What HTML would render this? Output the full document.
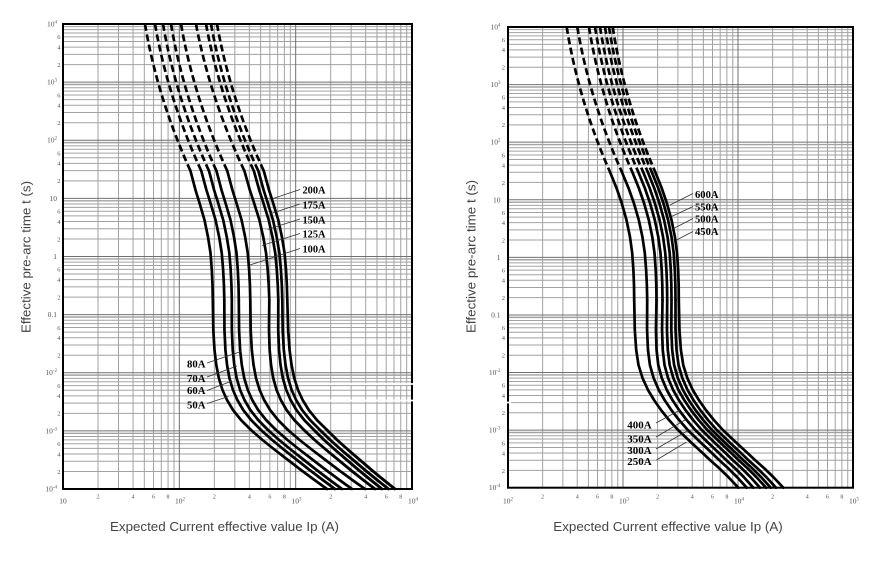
<!DOCTYPE html>
<html><head><meta charset="utf-8">
<style>html,body{margin:0;padding:0;background:#fff;}svg{display:block}</style>
</head><body>
<svg xmlns="http://www.w3.org/2000/svg" width="890" height="573" viewBox="0 0 890 573">
<rect width="890" height="573" fill="#fff"/>
<defs>
<path id="lvx" d="M35.02 24V489M55.5 24V489M70.04 24V489M81.31 24V489M90.52 24V489M98.31 24V489M105.06 24V489M111.01 24V489"/>
<path id="lhy" d="M63 -17.5H412M63 -27.73H412M63 -35H412M63 -40.63H412M63 -45.23H412M63 -49.12H412M63 -52.49H412M63 -55.47H412"/>
<path id="rvx" d="M34.62 27V487.7M54.87 27V487.7M69.24 27V487.7M80.38 27V487.7M89.49 27V487.7M97.19 27V487.7M103.86 27V487.7M109.74 27V487.7"/>
<path id="rhy" d="M508 -17.34H853M508 -27.48H853M508 -34.67H853M508 -40.25H853M508 -44.81H853M508 -48.66H853M508 -52.01H853M508 -54.96H853"/>
<g id="LA">
<path d="M145,24 Q157.3,97.5 190.5,171" stroke-dasharray="7 3.5" stroke-linecap="butt"/>
<path d="M190.5,171 L195.5,190 L199.5,203 L204.5,220 L208,237 L210.5,253 L211.8,270 L212.5,285 L212.8,300"/>
</g>
<path id="LB" d="M212.8,300 L213.3,330 L214.5,350 L216.3,365 L218.8,378 L222.5,390 L227,400 L233,410 L241,420 L251,430"/>
<path id="LC" d="M251,430 L262.5,440 L275,450 L288,460 L301,470 L314.5,480 L327,489"/>
<g id="RA">
<path d="M566.7,27 Q578.4,100.2 610,172" stroke-dasharray="7 3.5" stroke-linecap="butt"/>
<path d="M610,172 L616.5,188 L621.7,203 L626.5,220 L630,237 L632.2,253 L633.4,270 L634,285 L634.2,300"/>
</g>
<path id="RB" d="M634.2,300 L634.8,330 L636.2,350 L638.5,365 L642.5,378 L648,390 L654,400 L661,410 L669,420 L678,430 L691.7,443 L701.5,452 L710,460 L719,468 L728.3,477 L738.3,487.7"/>
</defs>

<!-- grids -->
<g fill="none" stroke="#a2a2a2" stroke-width="1">
<use href="#lvx" transform="translate(63,0)"/>
<use href="#lvx" transform="translate(179.33,0)"/>
<use href="#lvx" transform="translate(295.67,0)"/>
<use href="#lhy" transform="translate(0,82.125)"/>
<use href="#lhy" transform="translate(0,140.25)"/>
<use href="#lhy" transform="translate(0,198.375)"/>
<use href="#lhy" transform="translate(0,256.5)"/>
<use href="#lhy" transform="translate(0,314.625)"/>
<use href="#lhy" transform="translate(0,372.75)"/>
<use href="#lhy" transform="translate(0,430.875)"/>
<use href="#lhy" transform="translate(0,489)"/>
<use href="#rvx" transform="translate(508,0)"/>
<use href="#rvx" transform="translate(623,0)"/>
<use href="#rvx" transform="translate(738,0)"/>
<use href="#rhy" transform="translate(0,84.59)"/>
<use href="#rhy" transform="translate(0,142.18)"/>
<use href="#rhy" transform="translate(0,199.76)"/>
<use href="#rhy" transform="translate(0,257.35)"/>
<use href="#rhy" transform="translate(0,314.94)"/>
<use href="#rhy" transform="translate(0,372.53)"/>
<use href="#rhy" transform="translate(0,430.11)"/>
<use href="#rhy" transform="translate(0,487.7)"/>
<path d="M63 84.3H412M63 142.4H412M63 200.6H412M63 258.7H412M63 316.8H412M63 374.9H412M63 433.1H412M508 86.8H853M508 144.4H853M508 202H853M508 259.5H853M508 317.1H853M508 374.7H853M508 432.3H853"/>
</g>
<g fill="none" stroke="#707070" stroke-width="1">
<path d="M179.33 24V489M295.67 24V489M63 82.125H412M63 140.25H412M63 198.375H412M63 256.5H412M63 314.625H412M63 372.75H412M63 430.875H412"/>
<path d="M623 27V487.7M738 27V487.7M508 84.59H853M508 142.18H853M508 199.76H853M508 257.35H853M508 314.94H853M508 372.53H853M508 430.11H853"/>
</g>

<!-- curves left -->
<g fill="none" stroke="#000" stroke-width="2.7" stroke-linejoin="round" stroke-linecap="round">
<use href="#LA"/>
<use href="#LA" transform="matrix(1,0,0.005435,1,9.870,0)"/>
<use href="#LA" transform="matrix(1,0,0.003623,1,17.913,0)"/>
<use href="#LA" transform="matrix(1,0,0,1,26,0)"/>
<use href="#LA" transform="matrix(1,0,0.005435,1,35.870,0)"/>
<use href="#LA" transform="matrix(1,0,0.019928,1,50.522,0)"/>
<use href="#LA" transform="matrix(1,0,0.016304,1,60.609,0)"/>
<use href="#LA" transform="matrix(1,0,0.012681,1,65.696,0)"/>
<use href="#LA" transform="matrix(1,0,0.009058,1,71.783,0)"/>

<use href="#LB"/>
<use href="#LB" transform="matrix(1,0,-0.011538,1,14.962,0)"/>
<use href="#LB" transform="matrix(1,0,-0.015385,1,23.615,0)"/>
<use href="#LB" transform="matrix(1,0,-0.007692,1,28.308,0)"/>
<use href="#LB" transform="matrix(1,0,-0.003846,1,38.654,0)"/>
<use href="#LB" transform="matrix(1,0,-0.026923,1,64.577,0)"/>
<use href="#LB" transform="matrix(1,0,-0.019231,1,71.269,0)"/>
<use href="#LB" transform="matrix(1,0,-0.003846,1,70.654,0)"/>
<use href="#LB" transform="matrix(1,0,0.011538,1,71.038,0)"/>

<use href="#LC"/>
<use href="#LC" transform="matrix(1,0,-0.033898,1,24.576,0)"/>
<use href="#LC" transform="matrix(1,0,-0.033898,1,31.576,0)"/>
<use href="#LC" transform="matrix(1,0,0,1,25,0)"/>
<use href="#LC" transform="matrix(1,0,0.016949,1,29.712,0)"/>
<use href="#LC" transform="matrix(1,0,-0.084746,1,89.441,0)"/>
<use href="#LC" transform="matrix(1,0,-0.135593,1,121.305,0)"/>
<use href="#LC" transform="matrix(1,0,-0.127119,1,123.661,0)"/>
<use href="#LC" transform="matrix(1,0,-0.135593,1,134.305,0)"/>

<!-- curves right -->
<use href="#RA"/>
<use href="#RA" transform="matrix(1,0,0.008791,1,10.363,0)"/>
<use href="#RA" transform="matrix(1,0,0,1,22.3,0)"/>
<use href="#RA" transform="matrix(1,0,0,1,28.3,0)"/>
<use href="#RA" transform="matrix(1,0,-0.001099,1,33.330,0)"/>
<use href="#RA" transform="matrix(1,0,-0.003663,1,38.399,0)"/>
<use href="#RA" transform="matrix(1,0,-0.003663,1,42.399,0)"/>
<use href="#RA" transform="matrix(1,0,-0.005128,1,46.138,0)"/>

<use href="#RB"/>
<use href="#RB" transform="matrix(1,0,-0.024507,1,20.352,0)"/>
<use href="#RB" transform="matrix(1,0,-0.038892,1,33.968,0)"/>
<use href="#RB" transform="matrix(1,0,-0.035163,1,38.849,0)"/>
<use href="#RB" transform="matrix(1,0,-0.028237,1,41.471,0)"/>
<use href="#RB" transform="matrix(1,0,-0.026105,1,45.132,0)"/>
<use href="#RB" transform="matrix(1,0,-0.019180,1,47.054,0)"/>
<use href="#RB" transform="matrix(1,0,0.002131,1,43.961,0)"/>
</g>

<!-- leaders -->
<g stroke="#333" stroke-width="0.8" fill="none">
<path d="M300,189.5L273,198.5M300,204L271,213.5M300,219L267.5,229.5M300,233.5L262,245.5M300,248.5L250,265"/>
<path d="M207,363L241,351.5M207,377L237,366M207,390.5L232,381M207,403.5L228.5,396.5"/>
<path d="M693,193.5L670,205M693,206.5L671.5,216.5M693,218.5L673.5,228.5M693,231.5L676.5,240"/>
<path d="M656,423L680,410M656,437L685,420M656,449L687,431M656.5,460L686.5,442"/>
</g>

<!-- curve labels -->
<g font-family="Liberation Serif, serif" font-weight="bold" font-size="11" fill="#000">
<text x="302.5" y="193.3" textLength="23" lengthAdjust="spacingAndGlyphs">200A</text>
<text x="302.5" y="208.3" textLength="23" lengthAdjust="spacingAndGlyphs">175A</text>
<text x="302.5" y="223.3" textLength="23" lengthAdjust="spacingAndGlyphs">150A</text>
<text x="302.5" y="237.3" textLength="23" lengthAdjust="spacingAndGlyphs">125A</text>
<text x="302.5" y="252.7" textLength="23" lengthAdjust="spacingAndGlyphs">100A</text>
<text x="187" y="367.3" textLength="18.5" lengthAdjust="spacingAndGlyphs">80A</text>
<text x="187" y="382" textLength="18.5" lengthAdjust="spacingAndGlyphs">70A</text>
<text x="187" y="394" textLength="18.5" lengthAdjust="spacingAndGlyphs">60A</text>
<text x="187" y="408.3" textLength="18.5" lengthAdjust="spacingAndGlyphs">50A</text>
<text x="695" y="198" textLength="23.5" lengthAdjust="spacingAndGlyphs">600A</text>
<text x="695" y="210.7" textLength="23.5" lengthAdjust="spacingAndGlyphs">550A</text>
<text x="695" y="222.7" textLength="23.5" lengthAdjust="spacingAndGlyphs">500A</text>
<text x="695" y="235" textLength="23.5" lengthAdjust="spacingAndGlyphs">450A</text>
<text x="627.3" y="428.3" textLength="24.3" lengthAdjust="spacingAndGlyphs">400A</text>
<text x="627.3" y="442.3" textLength="24.3" lengthAdjust="spacingAndGlyphs">350A</text>
<text x="627.3" y="454" textLength="24.3" lengthAdjust="spacingAndGlyphs">300A</text>
<text x="627.3" y="465" textLength="24.3" lengthAdjust="spacingAndGlyphs">250A</text>
</g>

<!-- artifacts -->
<g stroke="#fff" stroke-width="1.8">
<path d="M298,384H415M305,400.5H415M508,401.8V403.8"/>
</g>

<!-- frames -->
<g fill="none" stroke="#000" stroke-width="2">
<rect x="63" y="24" width="349" height="465"/>
<rect x="508" y="27" width="345" height="460.7"/>
</g>
<g stroke="#fff" stroke-width="1.8">
<path d="M410,384H415M410,400.5H415M505,402.5H511"/>
</g>

<!-- y tick labels left -->
<g font-family="Liberation Serif, serif" font-size="7.5" fill="#555" text-anchor="end">
<text x="57" y="26.5">10<tspan dy="-3" font-size="5">4</tspan></text>
<text x="57" y="84.6">10<tspan dy="-3" font-size="5">3</tspan></text>
<text x="57" y="142.7">10<tspan dy="-3" font-size="5">2</tspan></text>
<text x="57" y="200.9">10</text>
<text x="57" y="259">1</text>
<text x="57" y="317.1">0.1</text>
<text x="57" y="375.2">10<tspan dy="-3" font-size="5">-2</tspan></text>
<text x="57" y="433.4">10<tspan dy="-3" font-size="5">-3</tspan></text>
<text x="57" y="491.5">10<tspan dy="-3" font-size="5">-4</tspan></text>
</g>
<g font-family="Liberation Serif, serif" font-size="6.5" fill="#555" text-anchor="end">
<text x="60.5" y="39.2">6</text><text x="60.5" y="49.4">4</text><text x="60.5" y="66.9">2</text>
<text x="60.5" y="97.3">6</text><text x="60.5" y="107.5">4</text><text x="60.5" y="125">2</text>
<text x="60.5" y="155.4">6</text><text x="60.5" y="165.7">4</text><text x="60.5" y="183.2">2</text>
<text x="60.5" y="213.6">6</text><text x="60.5" y="223.8">4</text><text x="60.5" y="241.3">2</text>
<text x="60.5" y="271.7">6</text><text x="60.5" y="281.9">4</text><text x="60.5" y="299.4">2</text>
<text x="60.5" y="329.8">6</text><text x="60.5" y="340">4</text><text x="60.5" y="357.5">2</text>
<text x="60.5" y="387.9">6</text><text x="60.5" y="398.2">4</text><text x="60.5" y="415.7">2</text>
<text x="60.5" y="446.1">6</text><text x="60.5" y="456.3">4</text><text x="60.5" y="473.8">2</text>
</g>

<!-- y tick labels right -->
<g font-family="Liberation Serif, serif" font-size="7.5" fill="#555" text-anchor="end">
<text x="500.5" y="29.5">10<tspan dy="-3" font-size="5">4</tspan></text>
<text x="500.5" y="87.1">10<tspan dy="-3" font-size="5">3</tspan></text>
<text x="500.5" y="144.7">10<tspan dy="-3" font-size="5">2</tspan></text>
<text x="500.5" y="202.3">10</text>
<text x="500.5" y="259.9">1</text>
<text x="500.5" y="317.4">0.1</text>
<text x="500.5" y="375">10<tspan dy="-3" font-size="5">-2</tspan></text>
<text x="500.5" y="432.6">10<tspan dy="-3" font-size="5">-3</tspan></text>
<text x="500.5" y="490.2">10<tspan dy="-3" font-size="5">-4</tspan></text>
</g>
<g font-family="Liberation Serif, serif" font-size="6.5" fill="#555" text-anchor="end">
<text x="505" y="42.1">6</text><text x="505" y="52.2">4</text><text x="505" y="69.6">2</text>
<text x="505" y="99.7">6</text><text x="505" y="109.8">4</text><text x="505" y="127.2">2</text>
<text x="505" y="157.3">6</text><text x="505" y="167.4">4</text><text x="505" y="184.8">2</text>
<text x="505" y="214.9">6</text><text x="505" y="225">4</text><text x="505" y="242.4">2</text>
<text x="505" y="272.5">6</text><text x="505" y="282.6">4</text><text x="505" y="300">2</text>
<text x="505" y="330.1">6</text><text x="505" y="340.2">4</text><text x="505" y="357.6">2</text>
<text x="505" y="387.7">6</text><text x="505" y="397.8">4</text><text x="505" y="415.2">2</text>
<text x="505" y="445.3">6</text><text x="505" y="455.4">4</text><text x="505" y="472.8">2</text>
</g>

<!-- x tick labels -->
<g font-family="Liberation Serif, serif" font-size="7.5" fill="#555" text-anchor="middle">
<text x="63" y="503.5">10</text>
<text x="180" y="503.5">10<tspan dy="-3" font-size="5">2</tspan></text>
<text x="296.5" y="503.5">10<tspan dy="-3" font-size="5">3</tspan></text>
<text x="413" y="503.5">10<tspan dy="-3" font-size="5">4</tspan></text>
<text x="508" y="503.5">10<tspan dy="-3" font-size="5">2</tspan></text>
<text x="624" y="503.5">10<tspan dy="-3" font-size="5">3</tspan></text>
<text x="739" y="503.5">10<tspan dy="-3" font-size="5">4</tspan></text>
<text x="854" y="503.5">10<tspan dy="-3" font-size="5">5</tspan></text>
</g>
<g font-family="Liberation Serif, serif" font-size="6" fill="#555" text-anchor="middle">
<text x="98" y="498.5">2</text><text x="133" y="498.5">4</text><text x="153.5" y="498.5">6</text><text x="168" y="498.5">8</text>
<text x="214.4" y="498.5">2</text><text x="249.4" y="498.5">4</text><text x="269.9" y="498.5">6</text><text x="284.4" y="498.5">8</text>
<text x="330.7" y="498.5">2</text><text x="365.7" y="498.5">4</text><text x="386.2" y="498.5">6</text><text x="400.7" y="498.5">8</text>
<text x="542.6" y="498.5">2</text><text x="577.2" y="498.5">4</text><text x="597.5" y="498.5">6</text><text x="611.9" y="498.5">8</text>
<text x="657.6" y="498.5">2</text><text x="692.2" y="498.5">4</text><text x="712.5" y="498.5">6</text><text x="726.9" y="498.5">8</text>
<text x="772.6" y="498.5">2</text><text x="807.2" y="498.5">4</text><text x="827.5" y="498.5">6</text><text x="841.9" y="498.5">8</text>
</g>

<!-- axis titles -->
<g font-family="Liberation Sans, sans-serif" font-size="13.3" fill="#444">
<text x="110" y="531" textLength="229" lengthAdjust="spacingAndGlyphs">Expected Current effective value Ip (A)</text>
<text x="553.3" y="531" textLength="229.4" lengthAdjust="spacingAndGlyphs">Expected Current effective value Ip (A)</text>
<text transform="translate(30.5,333) rotate(-90)" textLength="152" lengthAdjust="spacingAndGlyphs">Effective pre-arc time t (s)</text>
<text transform="translate(475.5,333) rotate(-90)" textLength="153" lengthAdjust="spacingAndGlyphs">Effective pre-arc time t (s)</text>
</g>
</svg>
</body></html>
